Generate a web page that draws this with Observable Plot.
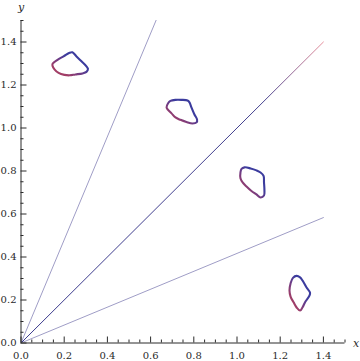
<!DOCTYPE html>
<html><head><meta charset="utf-8">
<script src="https://cdn.jsdelivr.net/npm/d3@7"></script>
<script src="https://cdn.jsdelivr.net/npm/@observablehq/plot@0.6"></script>
<style>
body{margin:0;background:#fff;}
#chart{width:360px;height:361px;overflow:hidden;}
</style>
</head><body><div id="chart"></div>
<script>
// ---- data ----
const blobNames = ["b1", "b2", "b3", "b4"];
const blob1X = [0.146,0.169,0.197,0.225,0.238,0.257,0.280,0.303,0.310,0.303,0.285,0.252,0.225,0.201,0.174,0.155,0.146];
const blob1Y = [1.298,1.317,1.333,1.350,1.352,1.333,1.310,1.287,1.275,1.261,1.254,1.249,1.245,1.247,1.256,1.273,1.289];
const blob2X = [0.674,0.681,0.692,0.715,0.743,0.771,0.780,0.789,0.803,0.815,0.813,0.794,0.766,0.738,0.715,0.697,0.681];
const blob2Y = [1.096,1.115,1.126,1.131,1.131,1.128,1.119,1.096,1.063,1.040,1.026,1.021,1.028,1.038,1.049,1.068,1.084];
const blob3X = [1.016,1.016,1.021,1.035,1.063,1.090,1.109,1.123,1.125,1.127,1.125,1.109,1.090,1.067,1.044,1.026];
const blob3Y = [0.766,0.793,0.810,0.817,0.812,0.803,0.793,0.777,0.747,0.710,0.686,0.677,0.691,0.707,0.728,0.747];
const blob4X = [1.276,1.292,1.303,1.322,1.338,1.336,1.317,1.303,1.292,1.276,1.262,1.248,1.243,1.248,1.259];
const blob4Y = [0.312,0.305,0.291,0.258,0.235,0.221,0.193,0.165,0.151,0.165,0.189,0.216,0.244,0.277,0.303];

const rayNames = ["steep", "diagonal", "shallow"];
const raySlopes = [2.4, 1, 1 / 2.4];
const rayEndX = [1.4, 1.4, 1.4];

const majorTicks = [0, 0.2, 0.4, 0.6, 0.8, 1.0, 1.2, 1.4];
const tickLabels = ["0.0", "0.2", "0.4", "0.6", "0.8", "1.0", "1.2", "1.4"];
const minorTicks = [0.05,0.1,0.15,0.25,0.3,0.35,0.45,0.5,0.55,0.65,0.7,0.75,0.85,0.9,0.95,1.05,1.1,1.15,1.25,1.3,1.35,1.45,1.5];
const axisNames = ["x", "y"];

// ---- tables built from the arrays ----
const blobXs = [blob1X, blob2X, blob3X, blob4X];
const blobYs = [blob1Y, blob2Y, blob3Y, blob4Y];
const blobRows = [];
blobNames.forEach((n, k) => blobXs[k].forEach((x, i) => blobRows.push({blob: n, x, y: blobYs[k][i]})));
const rayRows = [];
rayNames.forEach((n, k) => {
  rayRows.push({ray: n, x: 0, y: 0});
  rayRows.push({ray: n, x: rayEndX[k], y: raySlopes[k] * rayEndX[k]});
});
const labelMap = new Map(majorTicks.map((t, i) => [t, tickLabels[i]]));
const fmt = d => labelMap.get(d) ?? "";

const font = "DejaVu Serif";
const axisColor = "#2a2a2a";

const chart = Plot.plot({
  width: 360, height: 361,
  marginLeft: 20.5, marginRight: 15.5, marginTop: 20, marginBottom: 18.5,
  x: {domain: [0, 1.5], label: null},
  y: {domain: [0, 1.5], label: null},
  style: {fontFamily: font, fontSize: "10px", color: axisColor, background: "#fff"},
  marks: [
    Plot.line(rayRows.filter(d => d.ray !== "diagonal"), {x: "x", y: "y", z: "ray", stroke: "#9f9dc6", strokeWidth: 1, clip: true}),
    Plot.line(rayRows.filter(d => d.ray === "diagonal"), {x: "x", y: "y", z: "ray", stroke: "url(#diagGrad)", strokeWidth: 1, clip: true}),
    Plot.line(blobRows, {x: "x", y: "y", z: "blob", curve: "catmull-rom-closed", stroke: "url(#blobGrad)", strokeWidth: 2.1, strokeLinejoin: "round"}),
    Plot.ruleY([0], {stroke: axisColor, strokeWidth: 1}),
    Plot.ruleX([0], {stroke: axisColor, strokeWidth: 1}),
    Plot.axisX({ticks: majorTicks, tickSize: -6, tickPadding: 15, tickFormat: fmt, stroke: axisColor, fill: axisColor, label: null}),
    Plot.axisX({ticks: minorTicks, tickSize: -3, text: null, stroke: axisColor, label: null}),
    Plot.axisY({ticks: majorTicks, tickSize: -6, tickPadding: 10.5, tickFormat: fmt, stroke: axisColor, fill: axisColor, label: null}),
    Plot.axisY({ticks: minorTicks, tickSize: -3, text: null, stroke: axisColor, label: null}),
    Plot.text([axisNames[0]], {x: 1.5, y: 0, dx: 11, text: d => d, fontStyle: "italic", fontSize: 11, fill: axisColor, textAnchor: "middle"}),
    Plot.text([axisNames[1]], {x: 0, y: 1.5, dy: -13, text: d => d, fontStyle: "italic", fontSize: 11, fill: axisColor, textAnchor: "middle"})
  ]
});

const ns = "http://www.w3.org/2000/svg";
const svg = chart.tagName.toLowerCase() === "svg" ? chart : chart.querySelector("svg");
const defs = document.createElementNS(ns, "defs");
function grad(id, x1, y1, x2, y2, stops) {
  const g = document.createElementNS(ns, "linearGradient");
  g.setAttribute("id", id);
  g.setAttribute("x1", x1); g.setAttribute("y1", y1);
  g.setAttribute("x2", x2); g.setAttribute("y2", y2);
  stops.forEach(([o, c]) => {
    const s = document.createElementNS(ns, "stop");
    s.setAttribute("offset", o); s.setAttribute("stop-color", c);
    g.appendChild(s);
  });
  defs.appendChild(g);
}
grad("blobGrad", 0, 1, 1, 0, [[0.2, "#a23e66"], [0.45, "#6a3c88"], [0.62, "#3c3c9e"]]);
grad("diagGrad", 0, 1, 1, 0, [[0, "#3a3a8c"], [0.8, "#45428f"], [1, "#e8909c"]]);
svg.insertBefore(defs, svg.firstChild);
document.getElementById("chart").appendChild(chart);
</script>
</body></html>
